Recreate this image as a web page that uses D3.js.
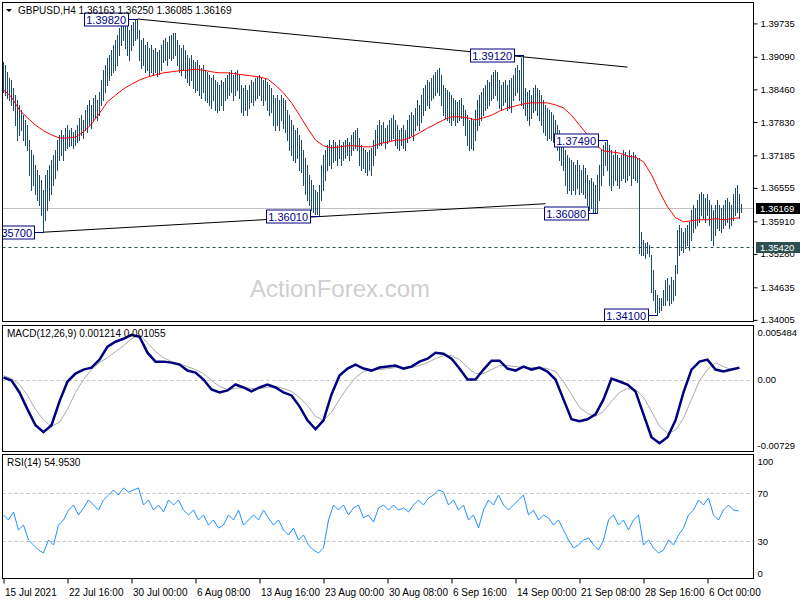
<!DOCTYPE html>
<html><head><meta charset="utf-8">
<script src="https://cdn.jsdelivr.net/npm/d3@7"></script>
<style>body{margin:0;background:#fff}svg{display:block}text{font-family:"Liberation Sans",Arial,sans-serif}</style>
</head><body><svg id="c" width="800" height="600"></svg>
<script>
const symbol = "GBPUSD,H4";
const lastOHLC = [1.36163, 1.36250, 1.36085, 1.36169];
const macdTitleValues = ["0.001214", "0.001055"];
const rsiTitleValue = "54.9530";
const highs = [
1.3899,1.3893,1.3880,1.3868,1.3864,1.3849,1.3835,1.3825,1.3816,1.3806,
1.3796,1.3787,1.3777,1.3748,1.3729,1.3719,1.3700,1.3690,1.3681,1.3671,
1.3652,1.3681,1.3690,1.3700,1.3710,1.3719,1.3729,1.3748,1.3758,1.3768,
1.3758,1.3771,1.3777,1.3768,1.3771,1.3764,1.3768,1.3777,1.3791,1.3796,
1.3787,1.3806,1.3816,1.3825,1.3816,1.3829,1.3835,1.3825,1.3841,1.3864,
1.3883,1.3893,1.3907,1.3912,1.3922,1.3932,1.3941,1.3951,1.3965,1.3974,
1.3976,1.3976,1.3970,1.3961,1.3970,1.3976,1.3980,1.3982,1.3961,1.3941,
1.3945,1.3932,1.3938,1.3926,1.3932,1.3922,1.3926,1.3918,1.3922,1.3932,
1.3941,1.3945,1.3938,1.3949,1.3951,1.3955,1.3955,1.3941,1.3932,1.3926,
1.3932,1.3922,1.3912,1.3907,1.3912,1.3903,1.3899,1.3903,1.3893,1.3887,
1.3893,1.3883,1.3880,1.3874,1.3868,1.3874,1.3864,1.3860,1.3854,1.3864,
1.3860,1.3868,1.3874,1.3880,1.3883,1.3874,1.3880,1.3883,1.3874,1.3854,
1.3849,1.3854,1.3845,1.3854,1.3864,1.3860,1.3868,1.3872,1.3874,1.3868,
1.3864,1.3868,1.3860,1.3854,1.3849,1.3835,1.3829,1.3835,1.3825,1.3835,
1.3829,1.3825,1.3806,1.3796,1.3787,1.3777,1.3768,1.3771,1.3758,1.3748,
1.3729,1.3713,1.3700,1.3681,1.3671,1.3661,1.3652,1.3648,1.3661,1.3700,
1.3719,1.3729,1.3739,1.3748,1.3739,1.3748,1.3744,1.3739,1.3748,1.3739,
1.3744,1.3748,1.3752,1.3744,1.3758,1.3764,1.3768,1.3771,1.3752,1.3739,
1.3733,1.3729,1.3725,1.3729,1.3733,1.3748,1.3768,1.3777,1.3787,1.3777,
1.3783,1.3771,1.3777,1.3787,1.3791,1.3796,1.3787,1.3777,1.3768,1.3771,
1.3777,1.3768,1.3787,1.3796,1.3802,1.3796,1.3810,1.3825,1.3816,1.3835,
1.3849,1.3854,1.3864,1.3860,1.3868,1.3874,1.3880,1.3883,1.3887,1.3874,
1.3854,1.3849,1.3845,1.3841,1.3835,1.3829,1.3825,1.3822,1.3825,1.3829,
1.3816,1.3806,1.3796,1.3787,1.3791,1.3787,1.3806,1.3825,1.3835,1.3841,
1.3849,1.3854,1.3864,1.3860,1.3874,1.3880,1.3883,1.3880,1.3864,1.3854,
1.3860,1.3864,1.3854,1.3864,1.3868,1.3874,1.3887,1.3893,1.3883,1.3907,
1.3912,1.3849,1.3841,1.3845,1.3835,1.3849,1.3854,1.3849,1.3845,1.3835,
1.3825,1.3816,1.3810,1.3806,1.3802,1.3796,1.3787,1.3777,1.3768,1.3748,
1.3739,1.3729,1.3719,1.3713,1.3710,1.3706,1.3700,1.3710,1.3700,1.3690,
1.3700,1.3694,1.3681,1.3671,1.3675,1.3667,1.3661,1.3681,1.3700,1.3729,
1.3739,1.3744,1.3749,1.3739,1.3729,1.3719,1.3729,1.3719,1.3713,1.3719,
1.3729,1.3725,1.3719,1.3729,1.3719,1.3725,1.3719,1.3713,1.3713,1.3570,
1.3555,1.3549,1.3551,1.3545,1.3526,1.3497,1.3458,1.3449,1.3443,1.3443,
1.3458,1.3478,1.3482,1.3468,1.3484,1.3478,1.3506,1.3574,1.3584,1.3578,
1.3570,1.3578,1.3584,1.3590,1.3613,1.3623,1.3617,1.3632,1.3643,1.3648,
1.3643,1.3637,1.3643,1.3632,1.3623,1.3613,1.3623,1.3632,1.3623,1.3617,
1.3623,1.3632,1.3637,1.3629,1.3623,1.3643,1.3656,1.3661,1.3643,1.3625];
const lows = [
1.3841,1.3835,1.3829,1.3825,1.3816,1.3806,1.3777,1.3748,1.3758,1.3768,
1.3748,1.3739,1.3729,1.3681,1.3652,1.3661,1.3643,1.3632,1.3623,1.3603,
1.3570,1.3594,1.3613,1.3632,1.3643,1.3661,1.3675,1.3690,1.3710,1.3719,
1.3710,1.3729,1.3733,1.3737,1.3739,1.3733,1.3739,1.3744,1.3748,1.3758,
1.3752,1.3768,1.3764,1.3777,1.3771,1.3787,1.3791,1.3787,1.3796,1.3816,
1.3825,1.3841,1.3854,1.3864,1.3874,1.3880,1.3883,1.3893,1.3912,1.3932,
1.3941,1.3926,1.3912,1.3903,1.3922,1.3932,1.3941,1.3945,1.3903,1.3887,
1.3893,1.3880,1.3883,1.3874,1.3880,1.3874,1.3880,1.3872,1.3876,1.3883,
1.3899,1.3903,1.3893,1.3907,1.3903,1.3907,1.3912,1.3893,1.3880,1.3874,
1.3883,1.3868,1.3860,1.3854,1.3864,1.3849,1.3841,1.3845,1.3835,1.3829,
1.3841,1.3825,1.3822,1.3816,1.3810,1.3825,1.3806,1.3802,1.3806,1.3816,
1.3806,1.3825,1.3829,1.3835,1.3841,1.3825,1.3835,1.3845,1.3829,1.3802,
1.3796,1.3806,1.3796,1.3810,1.3822,1.3816,1.3825,1.3829,1.3835,1.3825,
1.3816,1.3825,1.3806,1.3796,1.3802,1.3777,1.3768,1.3777,1.3768,1.3787,
1.3771,1.3764,1.3748,1.3729,1.3719,1.3710,1.3706,1.3713,1.3690,1.3686,
1.3661,1.3643,1.3632,1.3623,1.3613,1.3609,1.3605,1.3605,1.3601,1.3632,
1.3652,1.3671,1.3690,1.3700,1.3694,1.3706,1.3710,1.3700,1.3713,1.3700,
1.3710,1.3713,1.3719,1.3710,1.3719,1.3729,1.3733,1.3729,1.3700,1.3690,
1.3694,1.3686,1.3681,1.3690,1.3681,1.3700,1.3719,1.3733,1.3739,1.3739,
1.3744,1.3733,1.3742,1.3748,1.3748,1.3752,1.3739,1.3733,1.3729,1.3739,
1.3733,1.3729,1.3744,1.3752,1.3758,1.3748,1.3768,1.3777,1.3768,1.3783,
1.3796,1.3806,1.3816,1.3810,1.3825,1.3829,1.3835,1.3841,1.3835,1.3816,
1.3796,1.3791,1.3787,1.3783,1.3777,1.3787,1.3777,1.3783,1.3787,1.3791,
1.3777,1.3758,1.3739,1.3729,1.3733,1.3729,1.3748,1.3768,1.3777,1.3787,
1.3796,1.3806,1.3810,1.3816,1.3825,1.3829,1.3835,1.3825,1.3810,1.3806,
1.3816,1.3822,1.3806,1.3810,1.3802,1.3825,1.3835,1.3841,1.3825,1.3816,
1.3810,1.3796,1.3787,1.3777,1.3791,1.3802,1.3806,1.3796,1.3787,1.3777,
1.3764,1.3758,1.3748,1.3752,1.3748,1.3744,1.3739,1.3729,1.3710,1.3700,
1.3690,1.3661,1.3646,1.3652,1.3643,1.3652,1.3643,1.3656,1.3643,1.3648,
1.3643,1.3637,1.3623,1.3613,1.3617,1.3609,1.3609,1.3608,1.3632,1.3661,
1.3681,1.3700,1.3690,1.3661,1.3652,1.3661,1.3671,1.3661,1.3656,1.3671,
1.3675,1.3667,1.3671,1.3681,1.3661,1.3675,1.3671,1.3667,1.3530,1.3526,
1.3526,1.3520,1.3530,1.3524,1.3455,1.3439,1.3416,1.3410,1.3416,1.3420,
1.3429,1.3429,1.3439,1.3429,1.3433,1.3439,1.3449,1.3491,1.3526,1.3536,
1.3532,1.3540,1.3545,1.3536,1.3555,1.3570,1.3578,1.3584,1.3590,1.3603,
1.3598,1.3590,1.3603,1.3584,1.3555,1.3545,1.3565,1.3578,1.3574,1.3570,
1.3578,1.3584,1.3590,1.3578,1.3584,1.3594,1.3603,1.3609,1.3598,1.3609];

// moving average, one value every 4 bars
const maStep = 4;
const maValues = [1.3845,1.3831,1.3806,1.3791,1.3777,1.3766,1.3758,1.3752,1.3752,1.3754,
1.3764,1.3779,1.3800,1.3822,1.3835,1.3847,1.3856,1.3864,1.3870,1.3874,
1.3878,1.3880,1.3882,1.3883,1.3885,1.3883,1.3880,1.3878,1.3878,1.3876,
1.3874,1.3872,1.3870,1.3866,1.3854,1.3839,1.3820,1.3796,1.3771,1.3748,
1.3737,1.3733,1.3735,1.3737,1.3737,1.3735,1.3735,1.3741,1.3744,1.3748,
1.3748,1.3754,1.3762,1.3771,1.3779,1.3787,1.3793,1.3793,1.3791,1.3787,
1.3791,1.3796,1.3804,1.3810,1.3814,1.3818,1.3820,1.3820,1.3820,1.3816,
1.3810,1.3796,1.3777,1.3758,1.3739,1.3727,1.3725,1.3723,1.3717,1.3715,
1.3706,1.3681,1.3648,1.3619,1.3598,1.3590,1.3592,1.3594,1.3594,1.3596,
1.3594,1.3596,1.3598];

// MACD(12,26,9): main and signal, one value every 4 bars
const macdStep = 4;
const macdMain = [0.0002,-0.0001,-0.0013,-0.0030,-0.0046,-0.0053,-0.0046,-0.0022,-0.0002,0.0006,
0.0010,0.0012,0.0020,0.0033,0.0038,0.0041,0.0045,0.0043,0.0027,0.0018,
0.0018,0.0017,0.0015,0.0009,0.0007,0.0000,-0.0010,-0.0013,-0.0011,-0.0005,
-0.0008,-0.0012,-0.0008,-0.0005,-0.0008,-0.0013,-0.0016,-0.0027,-0.0041,-0.0050,
-0.0041,-0.0015,0.0004,0.0011,0.0015,0.0011,0.0009,0.0012,0.0013,0.0014,
0.0011,0.0013,0.0018,0.0021,0.0027,0.0026,0.0021,0.0011,0.0000,0.0000,
0.0010,0.0019,0.0019,0.0011,0.0009,0.0013,0.0010,0.0012,0.0008,0.0000,
-0.0020,-0.0040,-0.0042,-0.0040,-0.0035,-0.0020,0.0001,-0.0002,-0.0005,-0.0012,
-0.0035,-0.0058,-0.0064,-0.0058,-0.0041,-0.0013,0.0010,0.0018,0.0020,0.0010,
0.0008,0.0010,0.0012];
const macdSignal = [0.0004,0.0001,-0.0005,-0.0016,-0.0030,-0.0041,-0.0047,-0.0043,-0.0030,-0.0013,
0.0000,0.0010,0.0017,0.0022,0.0028,0.0034,0.0041,0.0045,0.0037,0.0028,
0.0022,0.0018,0.0016,0.0013,0.0010,0.0006,-0.0001,-0.0007,-0.0010,-0.0009,
-0.0008,-0.0009,-0.0009,-0.0008,-0.0007,-0.0009,-0.0012,-0.0018,-0.0026,-0.0037,
-0.0041,-0.0033,-0.0020,-0.0008,0.0002,0.0008,0.0010,0.0010,0.0011,0.0012,
0.0012,0.0012,0.0014,0.0017,0.0021,0.0024,0.0024,0.0020,0.0012,0.0006,
0.0006,0.0010,0.0014,0.0014,0.0013,0.0012,0.0012,0.0012,0.0011,0.0008,
-0.0002,-0.0015,-0.0028,-0.0034,-0.0037,-0.0032,-0.0022,-0.0013,-0.0009,-0.0010,
-0.0018,-0.0032,-0.0047,-0.0054,-0.0051,-0.0039,-0.0020,-0.0001,0.0010,0.0017,
0.0013,0.0010,0.0011];

// RSI(14), one value every 2.5 bars
const rsiStep = 2.5;
const rsiValues = [51.7,47.5,54.2,39.2,43.3,30.8,26.7,22.5,20.0,30.8,
26.7,43.3,47.5,55.8,60.0,51.7,57.5,64.2,60.0,55.8,
64.2,68.3,72.5,68.3,74.2,70.8,72.5,74.2,60.0,64.2,
55.8,60.0,54.2,64.2,60.0,64.2,55.8,51.7,55.8,47.5,
51.7,43.3,47.5,40.8,43.3,51.7,47.5,55.8,43.3,47.5,
51.7,47.5,55.8,49.2,43.3,47.5,39.2,35.0,40.8,30.8,
35.0,26.7,22.5,20.0,24.2,47.5,60.0,55.8,60.0,51.7,
57.5,60.0,49.2,51.7,45.8,57.5,60.0,55.8,60.0,55.8,
57.5,54.2,60.0,64.2,60.0,65.8,68.3,72.5,70.8,60.0,
64.2,55.8,60.0,47.5,51.7,40.8,55.8,64.2,60.0,68.3,
60.0,55.8,60.0,64.2,68.3,51.7,55.8,47.5,51.7,49.2,
43.3,47.5,39.2,30.8,24.2,26.7,30.8,32.5,26.7,22.5,
30.8,47.5,51.7,43.3,47.5,39.2,47.5,51.7,26.7,30.8,
24.2,20.0,22.5,30.8,26.7,35.0,40.8,51.7,55.8,64.2,
60.0,65.8,51.7,47.5,55.8,60.0,55.8,55.0];

const priceTicks = [1.39735,1.39090,1.38460,1.37830,1.37185,1.36555,1.35910,1.35280,1.34635,1.34005];
const macdTicks = [0.005484, 0, -0.00729];
const macdTickLabels = ["0.005484","0.00","-0.00729"];
const rsiTicks = [100, 70, 30, 0];
const rsiLevels = [70, 30];
const timeLabelBars = [0,32,64,96,128,160,192,224,256,288,320,352];
const timeLabels = ["15 Jul 2021","22 Jul 16:00","30 Jul 00:00","6 Aug 08:00","13 Aug 16:00","23 Aug 00:00","30 Aug 08:00","6 Sep 16:00","14 Sep 00:00","21 Sep 08:00","28 Sep 16:00","6 Oct 00:00"];
const upperTrend = [[67, 1.3982], [312, 1.3889]];
const lowerTrend = [[20, 1.3570], [271, 1.3625]];
const swingBars = [67, 260, 302, 297, 158, 20, 327];
const swingPrices = [1.3982, 1.3912, 1.3749, 1.3608, 1.3601, 1.3570, 1.3410];
const supportLevel = 1.3542;

// ---------- layout ----------
const L = 2.5, R = 753.5;
const main = {top: 2.5, bottom: 321.5};
const macdP = {top: 325.5, bottom: 451.5};
const rsiP = {top: 454.5, bottom: 578.5};
const barColor = "#194a6a";

const svg = d3.select("#c");
svg.append("rect").attr("width",800).attr("height",600).attr("fill","#fff");

const x = d3.scaleLinear().domain([0, highs.length - 1]).range([3.5, 3.5 + 2*(highs.length-1)]);
const y = d3.scaleLinear().domain([1.34005, 1.39735]).range([319.9, 23.4]);
const yM = d3.scaleLinear().domain([-0.00729, 0.005484]).range([452, 325]);
const yR = d3.scaleLinear().domain([0, 100]).range([577, 457]);

const defs = svg.append("defs");
function clip(id, p){ defs.append("clipPath").attr("id",id).append("rect")
  .attr("x",L).attr("y",p.top).attr("width",R-L).attr("height",p.bottom-p.top); }
clip("cm", main); clip("cd", macdP); clip("cr", rsiP);

// watermark
svg.append("text").attr("x",340).attr("y",297).attr("text-anchor","middle")
  .attr("font-size",24).attr("fill","#cfcfcf").text("ActionForex.com");

const gm = svg.append("g").attr("clip-path","url(#cm)");
gm.append("line").attr("x1",L).attr("x2",R).attr("y1",Math.round(y(lastOHLC[3]))+0.5).attr("y2",Math.round(y(lastOHLC[3]))+0.5)
  .attr("stroke","#c0c0c0");
gm.append("line").attr("x1",L).attr("x2",R).attr("y1",Math.round(y(supportLevel))+0.5).attr("y2",Math.round(y(supportLevel))+0.5)
  .attr("stroke","#2f4f4f").attr("stroke-dasharray","3,3");
gm.selectAll("line.bar").data(highs).join("line").attr("class","bar")
  .attr("x1",(d,i)=>x(i)).attr("x2",(d,i)=>x(i))
  .attr("y1",d=>Math.round(y(d))).attr("y2",(d,i)=>Math.round(y(lows[i]))+1)
  .attr("stroke",barColor).attr("stroke-width",1).attr("shape-rendering","crispEdges");
gm.append("path").datum(maValues).attr("fill","none").attr("stroke","#ff0000").attr("stroke-width",1)
  .attr("d", d3.line().x((d,i)=>x(i*maStep)).y(d=>y(d)));
[upperTrend, lowerTrend].forEach(t=>{
  gm.append("line").attr("x1",x(t[0][0])).attr("y1",y(t[0][1])).attr("x2",x(t[1][0])).attr("y2",y(t[1][1]))
    .attr("stroke","#000").attr("stroke-width",1);
});
swingBars.forEach((b,k)=>{
  const px = x(b), py = Math.round(y(swingPrices[k]))+0.5;
  const g = gm.append("g");
  const t = g.append("text").attr("font-size",11).attr("fill","#000080").text(swingPrices[k].toFixed(5));
  const w = t.node().getComputedTextLength() + 4;
  const bx = px - 10 - w;
  g.insert("rect","text").attr("x",Math.round(bx)+0.5).attr("y",py-6.5).attr("width",Math.round(w)).attr("height",13)
    .attr("fill","#fff").attr("stroke","#000080");
  t.attr("x",bx+2.5).attr("y",py+4);
  g.append("line").attr("x1",Math.round(bx)+0.5+Math.round(w)).attr("x2",px).attr("y1",py).attr("y2",py).attr("stroke","#000080");
});

// ---------- MACD ----------
const gd = svg.append("g").attr("clip-path","url(#cd)");
gd.append("line").attr("x1",L).attr("x2",R).attr("y1",Math.round(yM(0))+0.5).attr("y2",Math.round(yM(0))+0.5)
  .attr("stroke","#c0c0c0").attr("stroke-dasharray","3,3");
gd.append("path").datum(macdSignal).attr("fill","none").attr("stroke","#a9a9a9").attr("stroke-width",1)
  .attr("d", d3.line().x((d,i)=>x(i*macdStep)).y(d=>yM(d)));
gd.append("path").datum(macdMain).attr("fill","none").attr("stroke","#000080").attr("stroke-width",2.5)
  .attr("d", d3.line().x((d,i)=>x(i*macdStep)).y(d=>yM(d)));

// ---------- RSI ----------
const gr = svg.append("g").attr("clip-path","url(#cr)");
rsiLevels.forEach(v=>{
  gr.append("line").attr("x1",L).attr("x2",R).attr("y1",Math.round(yR(v))+0.5).attr("y2",Math.round(yR(v))+0.5)
    .attr("stroke","#c0c0c0").attr("stroke-dasharray","3,3");
});
gr.append("path").datum(rsiValues).attr("fill","none").attr("stroke","#1e90ff").attr("stroke-width",1)
  .attr("d", d3.line().x((d,i)=>x(i*rsiStep)).y(d=>yR(d)));

// ---------- frames ----------
[main, macdP, rsiP].forEach(p=>{
  svg.append("rect").attr("x",L).attr("y",p.top).attr("width",R-L).attr("height",p.bottom-p.top)
    .attr("fill","none").attr("stroke","#000").attr("shape-rendering","crispEdges");
});

// ---------- axes ----------
const fs = 9.5;
const ax = svg.append("g").attr("transform",`translate(${R},0)`)
  .call(d3.axisRight(y).tickValues(priceTicks).tickFormat(d3.format(".5f")).tickSize(4).tickPadding(3));
ax.select(".domain").remove();
ax.selectAll("text").attr("font-size",fs).attr("fill","#000");

function priceBox(v, fill){
  const py = Math.round(y(v));
  svg.append("rect").attr("x",756).attr("y",py-5).attr("width",44).attr("height",11).attr("fill",fill);
  svg.append("text").attr("x",760).attr("y",py+4).attr("font-size",fs).attr("fill","#fff").text(v.toFixed(5));
}
priceBox(supportLevel, "#2f4f4f");
priceBox(lastOHLC[3], "#000");

const axm = svg.append("g").attr("transform",`translate(${R},0)`)
  .call(d3.axisRight(yM).tickValues(macdTicks).tickFormat((d,i)=>macdTickLabels[i]).tickSize(0).tickPadding(4));
axm.select(".domain").remove();
axm.selectAll("text").attr("font-size",fs).attr("fill","#000").attr("dy",(d,i)=> i===0 ? "1.1em" : (i===2 ? "-0.4em" : "0.32em"));

const axr = svg.append("g").attr("transform",`translate(${R},0)`)
  .call(d3.axisRight(yR).tickValues(rsiTicks).tickSize(0).tickPadding(4));
axr.select(".domain").remove();
axr.selectAll("text").attr("font-size",fs).attr("fill","#000").attr("dy",(d,i)=> i===0 ? "0.75em" : (i===3 ? "-0.1em" : "0.32em"));

const axt = svg.append("g").attr("transform",`translate(0,${rsiP.bottom})`)
  .call(d3.axisBottom(x).tickValues(timeLabelBars).tickFormat((d,i)=>timeLabels[i]).tickSize(5).tickPadding(5));
axt.select(".domain").remove();
axt.selectAll("text").attr("font-size",10).attr("fill","#000").attr("text-anchor","start").attr("x",1);

// ---------- titles ----------
svg.append("path").attr("d","M6,9 L12,9 L9,12 Z").attr("fill","#000");
svg.append("text").attr("x",18).attr("y",14).attr("font-size",10).attr("fill","#000")
  .text(symbol + "  " + lastOHLC.map(v=>v.toFixed(5)).join(" "));
svg.append("text").attr("x",7).attr("y",337).attr("font-size",10).attr("fill","#000")
  .text("MACD(12,26,9) " + macdTitleValues.join(" "));
svg.append("text").attr("x",7).attr("y",466).attr("font-size",10).attr("fill","#000").text("RSI(14) " + rsiTitleValue);
</script></body></html>
